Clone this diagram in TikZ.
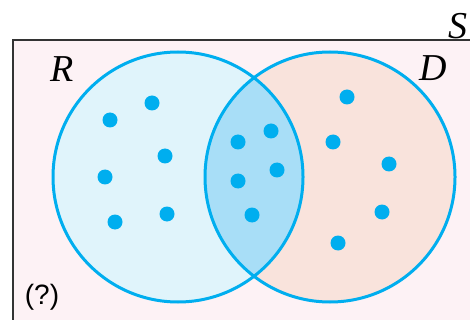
\documentclass[tikz,border=0pt]{standalone}
\usepackage{fontspec}
\setmainfont{Liberation Serif}
\setsansfont{Liberation Sans}
\usetikzlibrary{positioning}

\definecolor{venncyan}{HTML}{00AEEF}
\definecolor{spacefill}{HTML}{FDF2F5}
\definecolor{rfill}{HTML}{E0F4FB}
\definecolor{dfill}{HTML}{F9E3DC}
\definecolor{bothfill}{HTML}{A8DEF7}

\begin{document}
\begin{tikzpicture}[
        x=0.5pt, y=-0.5pt,
        setline/.style={draw=venncyan, line width=1.5pt},
        point/.style={circle, fill=venncyan, inner sep=0pt, minimum size=7.5pt},
        setname/.style={font=\fontsize{19}{21}\selectfont\itshape, inner sep=0pt}
    ]

        % Bounding box and clip
        \useasboundingbox (0,0) rectangle (470,320);
        \clip (0,0) rectangle (470,320);

        % Sample space
        \draw[fill=spacefill, draw=black!80, line width=1.3pt] (13,40) rectangle (490,340);

        % Sets
        \fill[rfill] (178,177) circle[radius=125];
        \fill[dfill] (330,177) circle[radius=125];
        \begin{scope}
            \clip (178,177) circle[radius=125];
            \fill[bothfill] (330,177) circle[radius=125];
        \end{scope}
        \draw[setline] (178,177) circle[radius=125];
        \draw[setline] (330,177) circle[radius=125];

        % Outcomes
        \foreach \px/\py in {110/120, 152/103, 165/156, 105/177, 115/222, 167/214,
                             238/142, 271/131, 238/181, 277/170, 252/215,
                             347/97, 333/142, 389/164, 382/212, 338/243}
            \node[point] at (\px,\py) {};

        % Labels
        \node[setname] (lblR) at (62,69) {R};
        \node[setname] (lblD) at (433,68) {D};
        \node[setname] (lblS) at (458,26) {S};
        \node[font=\sffamily\fontsize{14}{16}\selectfont, inner sep=0pt] (lblQ) at (42,297) {(?)};

    \end{tikzpicture}
\end{document}
